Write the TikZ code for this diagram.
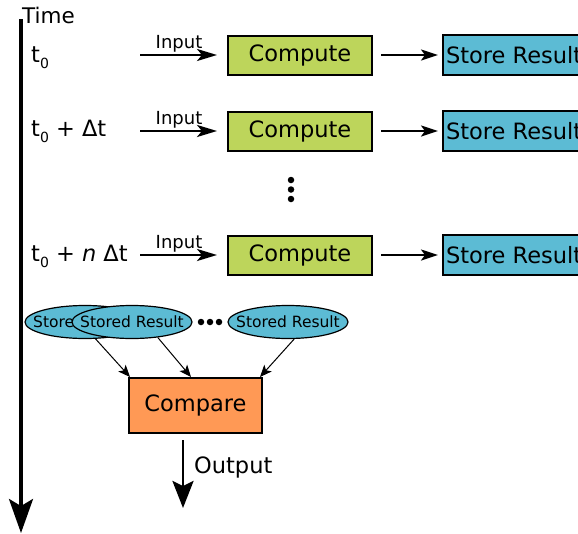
\documentclass[tikz,border=0pt]{standalone}
\usepackage{fontspec}
\setmainfont{DejaVu Sans}
\usetikzlibrary{arrows.meta,shapes.geometric,calc}
\definecolor{cgreen}{HTML}{BDD55B}
\definecolor{cblue}{HTML}{5CBBD4}
\definecolor{corange}{HTML}{FF9955}
\newcommand\tsubz{\raisebox{-0.28em}{\fontsize{14}{14}\selectfont 0}}
\begin{document}
\begin{tikzpicture}[x=1pt,y=-1pt,
  bigfont/.style={font=\fontsize{22.5}{24}\selectfont},
  compute/.style={draw=black, line width=2pt, fill=cgreen, minimum width=144pt, minimum height=39pt, inner sep=0pt, bigfont},
  store/.style={draw=black, line width=2pt, fill=cblue, minimum height=40pt, inner xsep=3pt, inner ysep=0pt, anchor=west, bigfont},
  cmpbox/.style={draw=black, line width=2pt, fill=corange, minimum width=133pt, minimum height=55pt, inner sep=0pt, bigfont},
  stored/.style={ellipse, draw=black, line width=1.2pt, fill=cblue, minimum width=120pt, minimum height=33pt, inner xsep=-11pt, inner ysep=0pt, font=\fontsize{15.5}{17}\selectfont},
  lab/.style={inner sep=0pt, anchor=base west, bigfont},
  inlab/.style={inner sep=0pt, anchor=base, font=\fontsize{18}{20}\selectfont},
  inarrow/.style={line width=2.5pt, -{Stealth[length=20pt,width=12pt,inset=5pt]}},
  resarrow/.style={line width=2.3pt, -{Stealth[length=17pt,width=11pt,inset=4pt]}},
  thinarrow/.style={line width=1pt, -{Stealth[length=12pt,width=10pt,inset=3pt]}},
  bigarrow/.style={line width=3.2pt, -{Stealth[length=34pt,width=24pt,inset=7pt]}},
  outarrow/.style={line width=2.8pt, -{Stealth[length=27pt,width=21pt,inset=5pt]}},
  dot/.style={circle, fill=black, inner sep=0pt, minimum size=6.5pt}
]
\useasboundingbox (0,0) rectangle (578,533);
\clip (0,0) rectangle (578,533);

% time axis
\coordinate (ttop) at (21,19);
\coordinate (tbot) at (21,533);
\draw[bigarrow] (ttop) -- (tbot);
\node[lab, font=\fontsize{21.5}{24}\selectfont] (time) at (22,23) {Time};

% row labels
\node[lab] (t1) at (31,62) {t\tsubz};
\node[lab] (t2) at (31,136) {t\tsubz{} + Δt};
\node[lab] (t3) at (31,261) {t\tsubz{} + \textit{n} Δt};

% compute boxes
\node[compute] (c1) at (300,55) {Compute};
\node[compute] (c2) at (300,131) {Compute};
\node[compute] (c3) at (300,255) {Compute};

% store boxes
\node[store] (s1) at (442,55) {Store Result};
\node[store] (s2) at (442,131) {Store Result};
\node[store] (s3) at (442,255) {Store Result};

% inputs
\coordinate (i1) at (140,55);
\coordinate (i2) at (140,131);
\coordinate (i3) at (140,255);
\draw[inarrow, shorten >=10pt] (i1) -- (c1.west |- i1);
\draw[inarrow, shorten >=10pt] (i2) -- (c2.west |- i2);
\draw[inarrow, shorten >=10pt] (i3) -- (c3.west |- i3);
\node[inlab] (in1) at (179,48) {Input};
\node[inlab] (in2) at (179,124) {Input};
\node[inlab] (in3) at (179,248) {Input};

% compute -> store
\draw[resarrow, shorten <=8pt, shorten >=4pt] (c1.east) -- (s1.west);
\draw[resarrow, shorten <=8pt, shorten >=4pt] (c2.east) -- (s2.west);
\draw[resarrow, shorten <=8pt, shorten >=4pt] (c3.east) -- (s3.west);

% vertical dots
\node[dot] (v1) at (291,180) {};
\node[dot] (v2) at (291,189.5) {};
\node[dot] (v3) at (291,199) {};

% stored results
\node[stored] (e1) at (85,322) {Stored Result};
\node[stored] (e2) at (132,322) {Stored Result};
\node[stored] (e3) at (288,322) {Stored Result};
\node[dot] (h1) at (201,322) {};
\node[dot] (h2) at (210,322) {};
\node[dot] (h3) at (219,322) {};

% compare
\node[cmpbox] (cmp) at (195.5,405.5) {Compare};
\draw[thinarrow] (e1.-58) -- ($(cmp.north west)+(2,0)$);
\draw[thinarrow] (e2.-31) -- ($(cmp.north)+(-4.5,0)$);
\draw[thinarrow] (e3.-70) -- ($(cmp.north east)+(-3,0)$);

% output
\coordinate (oend) at (183,508);
\draw[outarrow, shorten <=6pt] (cmp.south -| oend) -- (oend);
\node[inner sep=0pt, anchor=west, bigfont] (out) at (194,467) {Output};
\end{tikzpicture}
\end{document}
